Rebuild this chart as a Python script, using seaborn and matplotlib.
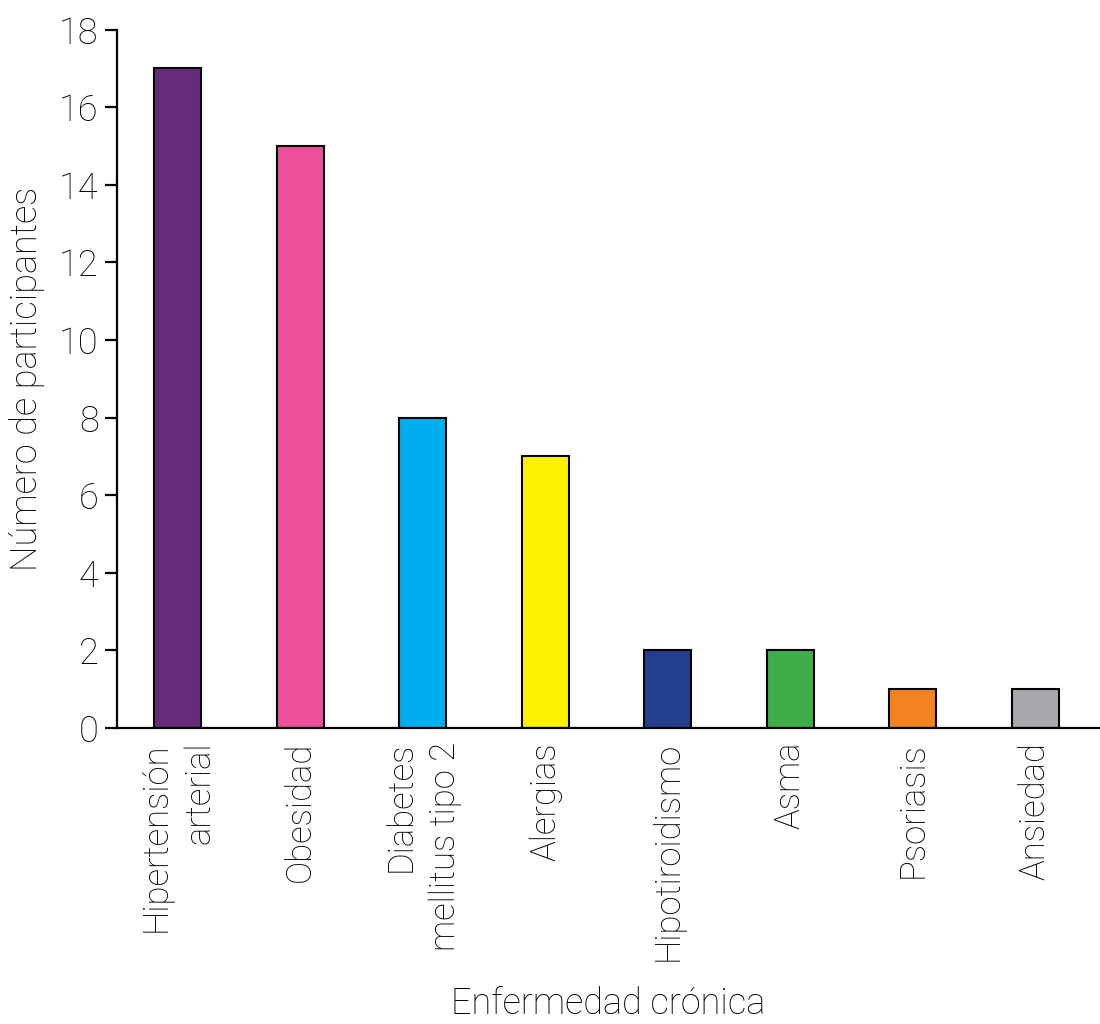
import pandas as pd
import seaborn as sns
import matplotlib.pyplot as plt

enfermedades = ["Hipertensión\narterial", "Obesidad", "Diabetes\nmellitus tipo 2", "Alergias",
                "Hipotiroidismo", "Asma", "Psoriasis", "Ansiedad"]
participantes = [17, 15, 8, 7, 2, 2, 1, 1]
colores = ["#652C7C", "#EE4F9A", "#00AEEF", "#FFF200", "#233E8E", "#3FAE49", "#F58220", "#A7A9AC"]

df = pd.DataFrame({"enfermedad": enfermedades, "n": participantes})

sns.set_style("ticks")
plt.rcParams['font.family'] = ['Roboto', 'DejaVu Sans']
plt.rcParams['font.weight'] = 'light'
plt.rcParams['text.color'] = 'black'
plt.rcParams['axes.labelcolor'] = 'black'
plt.rcParams['xtick.color'] = 'black'
plt.rcParams['ytick.color'] = 'black'
plt.rcParams['axes.edgecolor'] = 'black'

fig = plt.figure(figsize=(11, 10.24), dpi=100)
ax = fig.add_axes([0.106, 0.289, 0.894, 0.682])

sns.barplot(data=df, x="enfermedad", y="n", hue="enfermedad", palette=colores, saturation=1,
            legend=False, width=0.385, edgecolor="black", linewidth=1.5, ax=ax)

ax.set_ylim(0, 18)
ax.set_yticks(range(0, 19, 2))
ax.set_xlim(-0.5, 7.53)
sns.despine(ax=ax)
for s in ["left", "bottom"]:
    ax.spines[s].set_linewidth(1.6)
ax.tick_params(axis="y", length=9, width=1.6, labelsize=26, pad=4)
ax.tick_params(axis="x", length=0, labelsize=25, pad=10)
for lab in ax.get_xticklabels():
    lab.set_rotation(90)
    lab.set_va("top")
    lab.set_ha("center")
    lab.set_multialignment("right")
    lab.set_linespacing(1.4)
    lab.set_fontweight("light")
for lab in ax.get_yticklabels():
    lab.set_fontweight("light")

ax.set_xlabel("Enfermedad crónica", fontsize=26, fontweight="light", labelpad=18)
ax.set_ylabel("Número de participantes", fontsize=26, fontweight="light", labelpad=10)

fig.savefig("out.png", dpi=100)
